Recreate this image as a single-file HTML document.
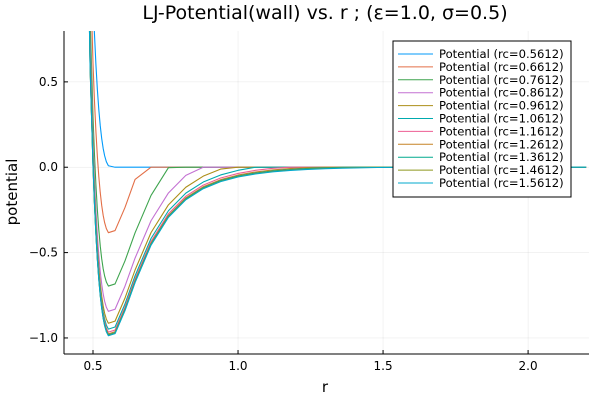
<!DOCTYPE html>
<html><head><meta charset="utf-8"><style>
body{margin:0;background:#fff}
svg{font-family:"DejaVu Sans","Liberation Sans",sans-serif}
</style></head><body>
<svg id="chart" width="600" height="400" xmlns="http://www.w3.org/2000/svg">
<rect width="600" height="400" fill="#fff"/>
<text x="325" y="19" font-size="19" text-anchor="middle" fill="#000">LJ-Potential(wall) vs. r ; (ε=1.0, σ=0.5)</text>
<text x="325" y="392" font-size="15" text-anchor="middle">r</text>
<text x="17" y="192" font-size="15" text-anchor="middle" transform="rotate(-90 17 192)">potential</text>
<g id="grid"></g><g id="ticks"></g>
<defs><clipPath id="pc"><rect x="64" y="31" width="525" height="323"/></clipPath></defs>
<g id="series" clip-path="url(#pc)"></g>
<line x1="64" y1="31" x2="64" y2="354" stroke="#000" stroke-width="1"/>
<line x1="64" y1="354" x2="589" y2="354" stroke="#000" stroke-width="1"/>
<g id="legend"></g>
</svg>
<script>
const epsilon = 1.0;
const sigma = 0.5;
const cutoffs = [0.5612,0.6612,0.7612,0.8612,0.9612,1.0612,1.1612,1.2612,1.3612,1.4612,1.5612];
const seriesLabels = ["Potential (rc=0.5612)","Potential (rc=0.6612)","Potential (rc=0.7612)","Potential (rc=0.8612)","Potential (rc=0.9612)","Potential (rc=1.0612)","Potential (rc=1.1612)","Potential (rc=1.2612)","Potential (rc=1.3612)","Potential (rc=1.4612)","Potential (rc=1.5612)"];
const rSamples = [0.4,0.44,0.47,0.49,0.5,0.505,0.51,0.515,0.52,0.525,0.53,0.535,0.54,0.546,0.553,0.576,0.61,0.645,0.70,0.76,0.82,0.88,0.94,1.0,1.06,1.12,1.18,1.24,1.3,1.36,1.42,1.48,1.54,1.6,1.66,1.72,1.78,1.84,1.9,1.96,2.02,2.08,2.14,2.2];
const xTicks = [0.5,1.0,1.5,2.0];
const xTickLabels = ["0.5","1.0","1.5","2.0"];
const yTicks = [0.5,0.0,-0.5,-1.0];
const yTickLabels = ["0.5","0.0","−0.5","−1.0"];
const colors = ["#009AFA","#E36F47","#3EA44E","#C371D2","#AC8E18","#00AAAE","#ED5E93","#C68225","#00A98D","#8E971E","#00A9CD"];

const X0=64,X1=589,Y0=31,Y1=354, xmin=0.4,xmax=2.21,ymin=-1.094,ymax=0.798;
const sx=v=>X0+(v-xmin)/(xmax-xmin)*(X1-X0);
const sy=v=>Y1-(v-ymin)/(ymax-ymin)*(Y1-Y0);
const NS="http://www.w3.org/2000/svg";
function mk(tag,attrs,parent){const e=document.createElementNS(NS,tag);for(const k in attrs)e.setAttribute(k,attrs[k]);parent.appendChild(e);return e;}
const grid=document.getElementById('grid'),ticks=document.getElementById('ticks'),series=document.getElementById('series'),legend=document.getElementById('legend');
xTicks.forEach((t,i)=>{
  const g=mk('line',{x1:sx(t),x2:sx(t),y1:Y0,y2:Y1,stroke:'#000','stroke-opacity':0.1,'stroke-width':0.5},grid);
  
  
  const tk=mk('line',{x1:sx(t),x2:sx(t),y1:Y1,y2:Y1-4,stroke:'#000','stroke-width':1},ticks);
  
  
  const tx=mk('text',{x:sx(t),y:Y1+16,'font-size':12,'text-anchor':'middle',fill:'#000'},ticks);
  tx.textContent=xTickLabels[i];
  
  
});
yTicks.forEach((t,i)=>{
  const g=mk('line',{x1:X0,x2:X1,y1:sy(t),y2:sy(t),stroke:'#000','stroke-opacity':0.1,'stroke-width':0.5},grid);
  
  
  const tk=mk('line',{x1:X0,x2:X0+4,y1:sy(t),y2:sy(t),stroke:'#000','stroke-width':1},ticks);
  
  
  const tx=mk('text',{x:X0-6,y:sy(t)+4,'font-size':12,'text-anchor':'end',fill:'#000'},ticks);
  tx.textContent=yTickLabels[i];
  
  
});
function lj(r){const s6=Math.pow(sigma/r,6);return 4*epsilon*(s6*s6-s6);}
cutoffs.forEach((rc,i)=>{
  const pts=rSamples.map(r=>{let v=r<rc?lj(r)-lj(rc):0;v=Math.max(Math.min(v,50),-50);return sx(r).toFixed(2)+','+sy(v).toFixed(2);});
  const p=mk('polyline',{points:pts.join(' '),fill:'none',stroke:colors[i],'stroke-width':1.1,'stroke-linejoin':'round'},series);
  
  
});
mk('rect',{x:393,y:41,width:178,height:156,fill:'#fff',stroke:'#000','stroke-width':1},legend);
seriesLabels.forEach((lab,i)=>{
  const y=54+i*12.9;
  const g=mk('g',{},legend);
  
  
  mk('line',{x1:398,x2:433,y1:y,y2:y,stroke:colors[i],'stroke-width':1},g);
  const t=mk('text',{x:439,y:y+4,'font-size':11.6,fill:'#000'},g);
  t.textContent=lab;
});
</script>
</body></html>
